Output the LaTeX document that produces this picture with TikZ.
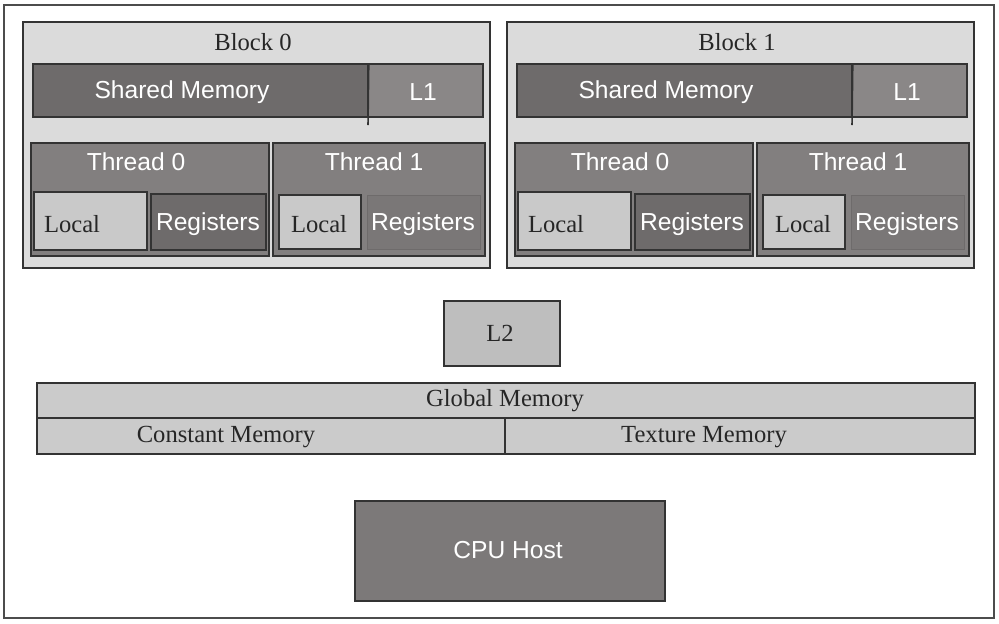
\documentclass[tikz,border=0pt]{standalone}
\usepackage{fontspec}
\setmainfont{Liberation Serif}
\setsansfont{Liberation Sans}
\usetikzlibrary{fit}
\definecolor{blockbg}{HTML}{DBDBDB}
\definecolor{smdark}{HTML}{6E6B6B}
\definecolor{lone}{HTML}{8A8787}
\definecolor{thread}{HTML}{827F7F}
\definecolor{localbg}{HTML}{C9C9C9}
\definecolor{regdark}{HTML}{6E6B6B}
\definecolor{regsoft}{HTML}{7A7777}
\definecolor{ltwo}{HTML}{BEBEBE}
\definecolor{globalbg}{HTML}{CBCBCB}
\definecolor{cpu}{HTML}{7C7979}

\begin{document}
\begin{tikzpicture}[x=0.02cm,y=-0.02cm]
  \tikzset{ box/.style={draw=black!80,line width=0.9pt,inner sep=0pt},
    sans/.style={font=\sffamily\fontsize{14}{16}\selectfont,text=white},
    serif/.style={font=\rmfamily\fontsize{14}{16}\selectfont,text=black!85},
  }
  \useasboundingbox (0,0) rectangle (999,623);
  \node[draw=black!70,line width=0.8pt,inner sep=0pt,fit={(4,5) (994,618)}] (frame) {};

  % the two blocks
  \foreach \i/\dx in {0/0,1/484}{
    \begin{scope}[shift={(\dx,0)}]
      \node[box,fill=blockbg,fit={(23,22) (490,268)}] (blk\i) {};
      \node[serif] (blklbl\i) at (253,42) {Block \i};
      \node[box,fill=smdark,fit={(33,64) (368,117)}] (sm\i) {};
      \node[sans] (smlbl\i) at (182,92) {Shared Memory};
      \node[box,fill=lone,fit={(368,64) (483,117)}] (lone\i) {};
      \node[sans] (lonelbl\i) at (423,92) {L1};
      \draw[black!80,line width=0.9pt] (sm\i.north east) -- (368,125);
      % threads
      \node[box,fill=thread,fit={(31,143) (269,256)}] (ta\i) {};
      \node[sans] (talbl\i) at (136,162) {Thread 0};
      \node[box,fill=thread,fit={(273,143) (485,256)}] (tb\i) {};
      \node[sans] (tblbl\i) at (374,162) {Thread 1};
      \node[box,fill=localbg,fit={(34,192) (147,250)}] (la\i) {};
      \node[serif] (lalbl\i) at (72,224) {Local};
      \node[box,fill=regdark,fit={(151,194) (266,250)}] (ra\i) {};
      \node[sans] (ralbl\i) at (208,224) {Registers};
      \node[box,fill=localbg,fit={(279,195) (361,249)}] (lb\i) {};
      \node[serif] (lblbl\i) at (319,224) {Local};
      \node[draw=regsoft!90!black,line width=0.4pt,inner sep=0pt,fill=regsoft,
        fit={(367,195) (480,249)}] (rb\i) {};
      \node[sans] (rblbl\i) at (423,224) {Registers};
    \end{scope}
  }

  % device memory
  \node[box,fill=ltwo,fit={(444,301) (560,366)}] (l2) {};
  \node[serif] (l2lbl) at (500,333) {L2};
  \node[box,fill=globalbg,fit={(37,383) (975,418)}] (gm) {};
  \node[serif] (gmlbl) at (505,401) {Global Memory};
  \node[box,fill=globalbg,fit={(37,418) (505,454)}] (cm) {};
  \node[serif] (cmlbl) at (226,437) {Constant Memory};
  \node[box,fill=globalbg,fit={(505,418) (975,454)}] (tm) {};
  \node[serif] (tmlbl) at (704,437) {Texture Memory};

  % host
  \node[box,fill=cpu,fit={(355,501) (665,601)}] (cpu) {};
  \node[sans] (cpulbl) at (508,550) {CPU Host};
\end{tikzpicture}
\end{document}
